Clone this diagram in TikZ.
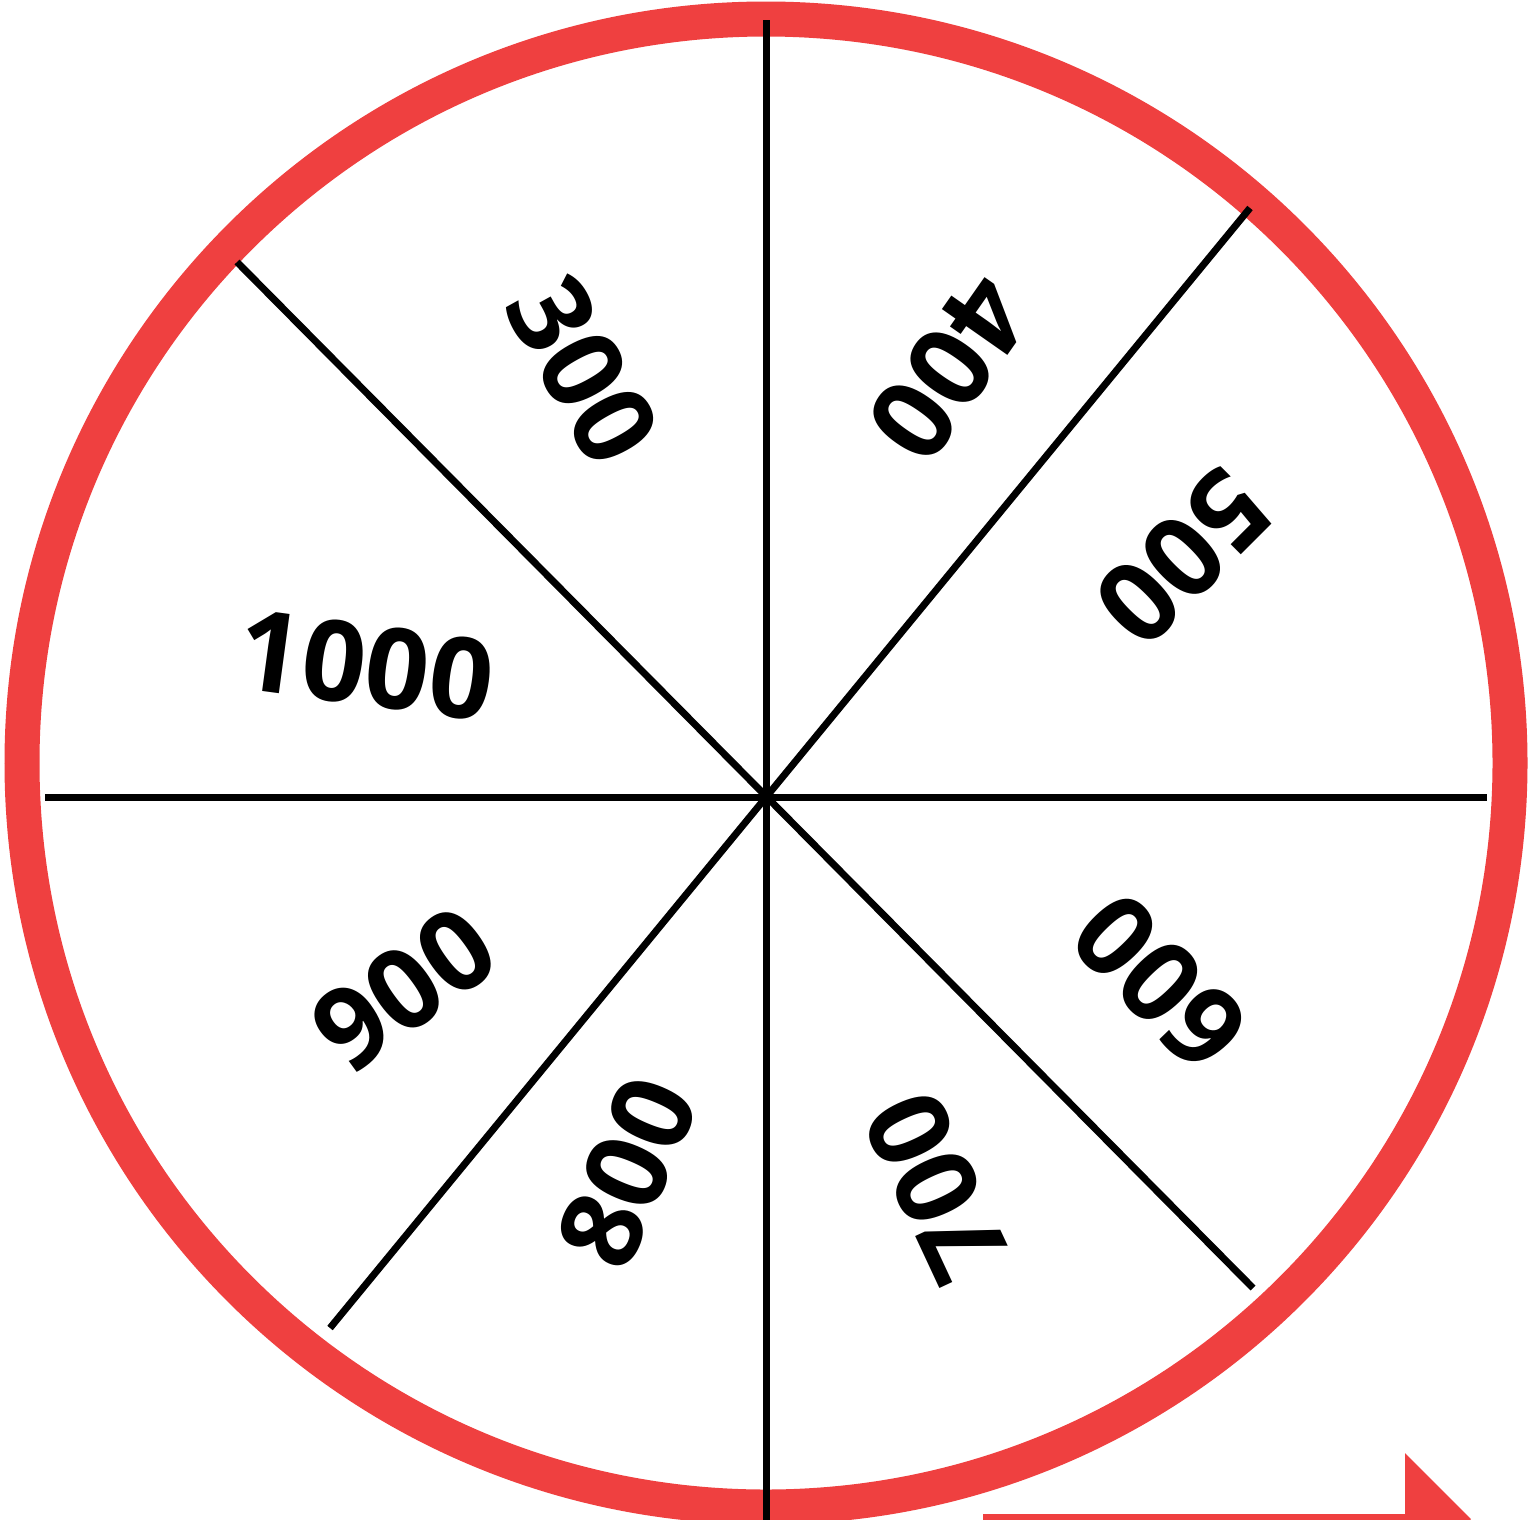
\documentclass[tikz,border=0pt]{standalone}
\usepackage{fontspec}
\setmainfont{Open Sans}
\definecolor{wheelred}{RGB}{239,64,64}
\begin{document}
\begin{tikzpicture}[x=1pt,y=-1pt,
  rim/.style={draw=wheelred,line width=35pt},
  spoke/.style={draw=black,line width=7pt},
  val/.style={inner sep=0pt,font=\fontsize{112}{112}\selectfont\bfseries},
  arrowred/.style={fill=wheelred,draw=none}]
\useasboundingbox (0,0) rectangle (1536,1519);
\fill[white] (0,0) rectangle (1536,1519);
% rim
\coordinate (c) at (766,763);
\draw[rim] (c) circle (744pt);
% spoke ends
\coordinate (hub) at (766,797);
\coordinate (n) at (766,20);
\coordinate (s) at (766,1530);
\coordinate (w) at (45,797);
\coordinate (e) at (1487,797);
\coordinate (nw) at (237,262);
\coordinate (se) at (1253,1288);
\coordinate (ne) at (1250,208);
\coordinate (sw) at (330,1328);
\draw[spoke] (n) -- (s);
\draw[spoke] (w) -- (e);
\draw[spoke] (nw) -- (se);
\draw[spoke] (ne) -- (sw);
% labels
\node[val,rotate=-61] (l300) at (583,370) {300};
\node[val,rotate=-125] (l400) at (950,368) {400};
\node[val,rotate=-135] (l500) at (1183,557) {500};
\node[val,rotate=134] (l600) at (1160,982) {600};
\node[val,rotate=115] (l700) at (937,1187) {700};
\node[val,rotate=67] (l800) at (627,1172) {800};
\node[val,rotate=36] (l900) at (404,989) {900};
\node[val,rotate=-7.7] (l1000) at (366,665) {1000};
% arrow
\coordinate (a0) at (983,1514);
\coordinate (a1) at (1405,1530);
\fill[arrowred] (a0) rectangle (a1);
\coordinate (t1) at (1405,1453);
\coordinate (t2) at (1471,1519);
\coordinate (t3) at (1405,1585);
\fill[arrowred] (t1) -- (t2) -- (t3) -- cycle;
\end{tikzpicture}
\end{document}
